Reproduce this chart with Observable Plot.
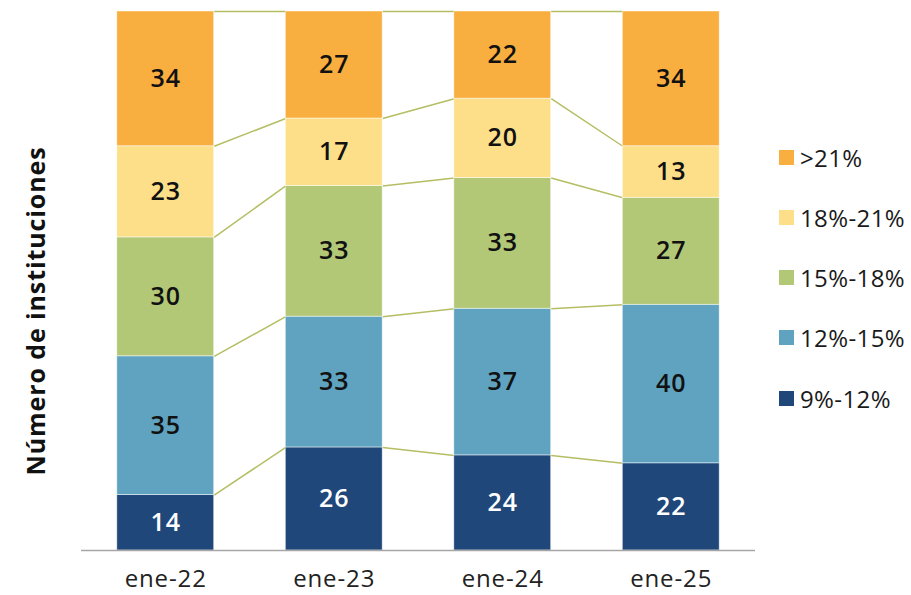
<!DOCTYPE html>
<html>
<head>
<meta charset="utf-8">
<script src="https://cdn.jsdelivr.net/npm/d3@7"></script>
<script src="https://cdn.jsdelivr.net/npm/@observablehq/plot@0.6"></script>
<style>
  html, body { margin: 0; padding: 0; background: #fff; }
  #wrap { position: relative; width: 911px; height: 595px; font-family: "Open Sans", sans-serif; }
  #legend { position: absolute; left: 779px; top: 145px; }
  .item { display: flex; align-items: center; height: 24px; margin-bottom: 36.3px; font-size: 24px; letter-spacing: 0.4px; color: #1a1a1a; }
  .sw { width: 15px; height: 15px; margin-right: 6px; }
</style>
</head>
<body>
<div id="wrap"><div id="chart"></div><div id="legend"></div></div>
<script>
const categories = ["ene-22", "ene-23", "ene-24", "ene-25"];
const series = ["9%-12%", "12%-15%", "15%-18%", "18%-21%", ">21%"];
const colors = ["#1F477A", "#5FA3C0", "#B2C876", "#FDDF8A", "#F9AE40"];
const v9_12  = [14, 26, 24, 22];
const v12_15 = [35, 33, 37, 40];
const v15_18 = [30, 33, 33, 27];
const v18_21 = [23, 17, 20, 13];
const v21    = [34, 27, 22, 34];
const values = [v9_12, v12_15, v15_18, v18_21, v21];

const half = 0.2875; // half bar width in category units
const rows = [];
categories.forEach((c, i) => {
  let acc = 0;
  series.forEach((s, k) => {
    const v = values[k][i];
    rows.push({i, cat: c, series: s, k, value: v, y1: acc, y2: acc + v});
    acc += v;
  });
});
// connectors at each cumulative boundary between adjacent bars
const links = [];
for (let i = 0; i < categories.length - 1; i++) {
  for (let k = 0; k < series.length; k++) {
    const a = rows.find(r => r.i === i && r.k === k).y2;
    const b = rows.find(r => r.i === i + 1 && r.k === k).y2;
    links.push({x1: i + half, x2: i + 1 - half, y1: a, y2: b});
  }
}

const plot = Plot.plot({
  width: 911,
  height: 595,
  marginLeft: 81,
  marginRight: 156,
  marginTop: 11,
  marginBottom: 45,
  style: {fontFamily: "Open Sans, sans-serif", background: "#fff", letterSpacing: "0.9px"},
  x: {domain: [-0.5, categories.length - 0.5], axis: null},
  y: {domain: [0, 136], axis: null},
  color: {domain: series, range: colors},
  marks: [
    Plot.link(links, {x1: "x1", x2: "x2", y1: "y1", y2: "y2", stroke: "#B5BE62", strokeWidth: 1.5}),
    Plot.rect(rows, {x1: d => d.i - half, x2: d => d.i + half, y1: "y1", y2: "y2", fill: "series", stroke: "#ffffff", strokeWidth: 0.8, strokeOpacity: 0.6}),
    Plot.text(rows, {x: "i", y: d => (d.y1 + d.y2) / 2, text: d => String(d.value),
      fill: d => d.k === 0 ? "#ffffff" : "#111111", fontSize: 25, fontWeight: 600}),
    Plot.ruleY([0], {stroke: "#A6A6A6", strokeWidth: 1.5}),
    Plot.axisX({ticks: d3.range(categories.length), tickFormat: i => categories[i], tickSize: 0, tickPadding: 19, fontSize: 24, color: "#222", label: null}),
    Plot.text(["Número de instituciones"], {frameAnchor: "left", textAnchor: "middle", rotate: -90, dx: -45, dy: 30, fontSize: 25, fontWeight: 700, fill: "#111"})
  ]
});
document.getElementById("chart").appendChild(plot);

const leg = document.getElementById("legend");
series.slice().reverse().forEach((s) => {
  const idx = series.indexOf(s);
  const it = document.createElement("div");
  it.className = "item";
  it.innerHTML = `<div class="sw" style="background:${colors[idx]}"></div><span>${s}</span>`;
  leg.appendChild(it);
});
</script>
</body>
</html>
